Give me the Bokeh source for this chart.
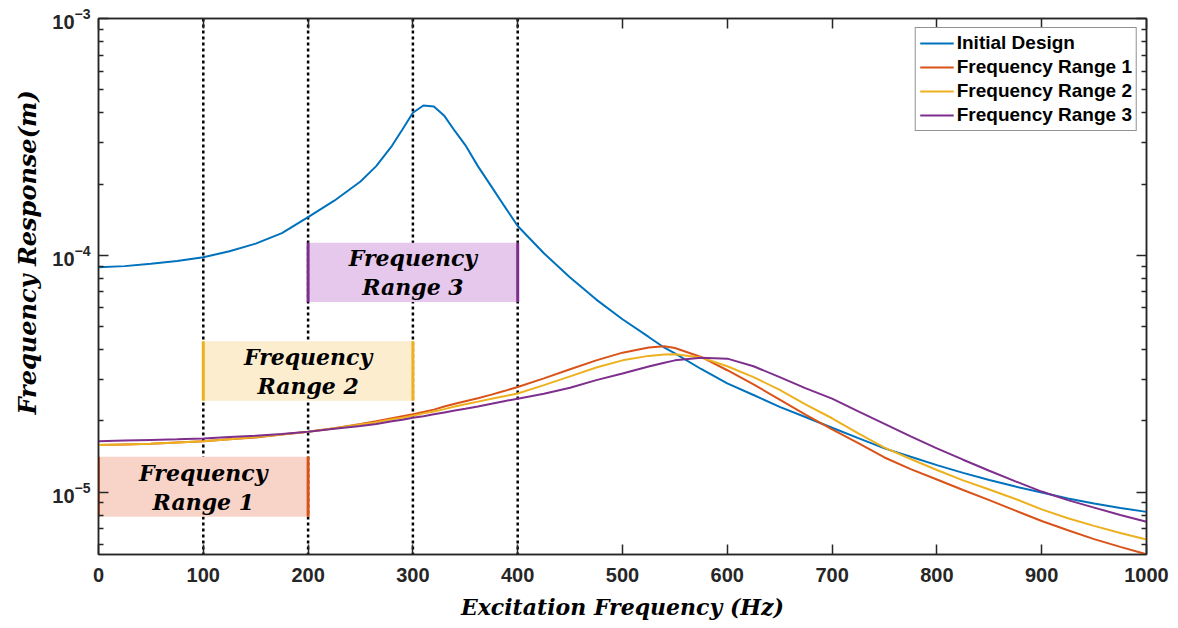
from bokeh.plotting import figure
from bokeh.models import (Range1d, LinearAxis, LogAxis, FixedTicker, LogTickFormatter,
                          Span, Legend, LegendItem, Title)
from bokeh.core.properties import value
from bokeh.embed import file_html
from bokeh.resources import INLINE

# Excitation frequency grid (Hz)
freq = [0, 25, 50, 75, 100, 125, 150, 175, 200, 225, 250, 265, 280, 290, 300, 310, 320,
        330, 340, 350, 362, 375, 387, 400, 425, 450, 475, 500, 525, 540, 550, 575, 600,
        625, 650, 675, 700, 725, 750, 775, 800, 825, 850, 875, 900, 925, 950, 975, 1000]

# Frequency response amplitude (m)
initial_design = [8.90e-5, 9.00e-5, 9.20e-5, 9.45e-5, 9.81e-5, 1.04e-4, 1.12e-4, 1.24e-4,
                  1.45e-4, 1.70e-4, 2.05e-4, 2.38e-4, 2.90e-4, 3.40e-4, 4.00e-4, 4.29e-4,
                  4.25e-4, 3.88e-4, 3.35e-4, 2.92e-4, 2.38e-4, 1.95e-4, 1.62e-4, 1.33e-4,
                  1.02e-4, 8.05e-5, 6.50e-5, 5.37e-5, 4.52e-5, 4.07e-5, 3.85e-5, 3.31e-5,
                  2.88e-5, 2.57e-5, 2.29e-5, 2.07e-5, 1.87e-5, 1.69e-5, 1.53e-5, 1.41e-5,
                  1.30e-5, 1.205e-5, 1.125e-5, 1.055e-5, 9.95e-6, 9.40e-6, 8.95e-6, 8.57e-6, 8.25e-6]
range1_design = [1.58e-5, 1.59e-5, 1.60e-5, 1.62e-5, 1.64e-5, 1.67e-5, 1.70e-5, 1.75e-5,
                 1.80e-5, 1.86e-5, 1.94e-5, 1.99e-5, 2.05e-5, 2.09e-5, 2.13e-5, 2.18e-5,
                 2.23e-5, 2.30e-5, 2.36e-5, 2.42e-5, 2.49e-5, 2.58e-5, 2.67e-5, 2.78e-5,
                 3.02e-5, 3.30e-5, 3.60e-5, 3.88e-5, 4.08e-5, 4.13e-5, 4.06e-5, 3.72e-5,
                 3.27e-5, 2.85e-5, 2.46e-5, 2.12e-5, 1.84e-5, 1.61e-5, 1.40e-5, 1.25e-5,
                 1.13e-5, 1.02e-5, 9.25e-6, 8.35e-6, 7.55e-6, 6.90e-6, 6.33e-6, 5.87e-6, 5.46e-6]
range2_design = [1.58e-5, 1.59e-5, 1.60e-5, 1.62e-5, 1.64e-5, 1.67e-5, 1.71e-5, 1.75e-5,
                 1.80e-5, 1.86e-5, 1.93e-5, 1.97e-5, 2.03e-5, 2.06e-5, 2.10e-5, 2.15e-5,
                 2.19e-5, 2.24e-5, 2.30e-5, 2.35e-5, 2.41e-5, 2.48e-5, 2.54e-5, 2.61e-5,
                 2.83e-5, 3.08e-5, 3.36e-5, 3.60e-5, 3.76e-5, 3.81e-5, 3.82e-5, 3.70e-5,
                 3.40e-5, 3.06e-5, 2.70e-5, 2.34e-5, 2.05e-5, 1.77e-5, 1.54e-5, 1.38e-5,
                 1.24e-5, 1.12e-5, 1.025e-5, 9.35e-6, 8.45e-6, 7.75e-6, 7.20e-6, 6.72e-6, 6.31e-6]
range3_design = [1.64e-5, 1.65e-5, 1.66e-5, 1.67e-5, 1.685e-5, 1.71e-5, 1.73e-5, 1.76e-5,
                 1.80e-5, 1.85e-5, 1.90e-5, 1.94e-5, 1.99e-5, 2.02e-5, 2.06e-5, 2.09e-5,
                 2.13e-5, 2.17e-5, 2.21e-5, 2.25e-5, 2.30e-5, 2.36e-5, 2.42e-5, 2.48e-5,
                 2.60e-5, 2.76e-5, 2.97e-5, 3.17e-5, 3.39e-5, 3.52e-5, 3.60e-5, 3.69e-5,
                 3.66e-5, 3.40e-5, 3.06e-5, 2.74e-5, 2.48e-5, 2.19e-5, 1.94e-5, 1.72e-5,
                 1.53e-5, 1.37e-5, 1.23e-5, 1.11e-5, 1.005e-5, 9.25e-6, 8.60e-6, 8.00e-6, 7.50e-6]

series_names = ["Initial Design", "Frequency Range 1", "Frequency Range 2", "Frequency Range 3"]
series_colors = ["#0072BD", "#D95319", "#EDB120", "#7E2F8E"]

# Optimisation bands
band_start = [0, 100, 200]
band_end = [200, 300, 400]
band_top = [1.41e-5, 4.34e-5, 1.13e-4]
band_bottom = [7.87e-6, 2.43e-5, 6.35e-5]
band_title = ["Frequency", "Frequency", "Frequency"]
band_name = ["Range 1", "Range 2", "Range 3"]
band_fill = ["#F8D4C8", "#FBEDCD", "#E6C8EC"]
band_edge = ["#D95319", "#EDB120", "#7E2F8E"]

window_edges = [100, 200, 300, 400]
x_ticks = [0, 100, 200, 300, 400, 500, 600, 700, 800, 900, 1000]
y_ticks = [1e-5, 1e-4, 1e-3]
y_minor = [m * d for d in (1e-6, 1e-5, 1e-4) for m in range(2, 10)]

axis_color = "#262626"
label_font = "DejaVu Serif"
tick_font = "Liberation Sans"

p = figure(frame_width=1048, frame_height=536, y_axis_type="log",
           x_range=Range1d(0, 1000), y_range=Range1d(5.45e-6, 1e-3),
           output_backend="svg", toolbar_location=None,
           min_border_left=98, min_border_right=32, min_border_top=18, min_border_bottom=74)
p.grid.visible = False
p.outline_line_color = axis_color
p.outline_line_width = 1.5
p.background_fill_color = "white"
p.border_fill_color = "white"

# dotted markers of the band limits
for xe in window_edges:
    p.add_layout(Span(location=xe, dimension="height", line_color="black",
                      line_width=2.5, line_dash="3 3", level="underlay"))

# shaded bands with coloured side edges
p.quad(left=band_start, right=band_end, top=band_top, bottom=band_bottom,
       fill_color=band_fill, line_color=None)
p.segment(x0=band_start, y0=band_bottom, x1=band_start, y1=band_top,
          line_color=band_edge, line_width=3)
p.segment(x0=band_end, y0=band_bottom, x1=band_end, y1=band_top,
          line_color=band_edge, line_width=3)

band_cx = [(a + b) / 2 for a, b in zip(band_start, band_end)]
band_cy = [(t * b) ** 0.5 for t, b in zip(band_top, band_bottom)]
p.text(x=band_cx, y=band_cy, text=band_title, text_font=value(label_font),
       text_font_style="bold italic", text_font_size="22px", text_align="center",
       text_baseline="middle", y_offset=-14, text_color="black")
p.text(x=band_cx, y=band_cy, text=band_name, text_font=value(label_font),
       text_font_style="bold italic", text_font_size="22px", text_align="center",
       text_baseline="middle", y_offset=15, text_color="black")

# response curves
items = []
for name, ys, col in zip(series_names,
                         [initial_design, range1_design, range2_design, range3_design],
                         series_colors):
    r = p.line(freq, ys, line_color=col, line_width=2)
    items.append(LegendItem(label=name, renderers=[r]))

legend = Legend(items=items, location="top_right", label_text_font=tick_font,
                label_text_font_style="bold", label_text_font_size="19px",
                label_text_color="black", border_line_color=axis_color,
                border_line_width=1.2, background_fill_color="white",
                background_fill_alpha=1, glyph_width=34, glyph_height=22,
                label_height=22, label_standoff=3, spacing=2, padding=4,
                margin=9)
p.add_layout(legend)

# axes
def style(ax, show_labels):
    ax.axis_line_color = axis_color
    ax.axis_line_width = 1.5
    ax.major_tick_line_color = axis_color
    ax.major_tick_line_width = 1.5
    ax.minor_tick_line_color = axis_color
    ax.minor_tick_line_width = 1.5
    ax.major_tick_in = 10
    ax.major_tick_out = 0
    ax.minor_tick_in = 5
    ax.minor_tick_out = 0
    ax.major_label_text_font = tick_font
    ax.major_label_text_font_style = "bold"
    ax.major_label_text_font_size = "20px" if show_labels else "1px"
    ax.major_label_text_color = "#262626" if show_labels else None
    ax.axis_label_text_font = label_font
    ax.axis_label_text_font_style = "bold italic"
    ax.axis_label_text_font_size = "22px"
    ax.axis_label_text_color = "black"

xb = p.xaxis[0]
xb.ticker = FixedTicker(ticks=x_ticks)
style(xb, True)
xb.minor_tick_line_color = None
xb.major_label_standoff = 13
xb.axis_label = "Excitation Frequency (Hz)"
xb.axis_label_standoff = 9

yl = p.yaxis[0]
yl.ticker = FixedTicker(ticks=y_ticks, minor_ticks=y_minor)
yl.formatter = LogTickFormatter()
style(yl, True)
yl.major_label_standoff = 8

# y title on the left side, raised a little above the frame centre
p.add_layout(Title(text="Frequency Response(m)", align="left", offset=140,
                   text_font=label_font, text_font_style="bold italic",
                   text_font_size="24px", text_color="black", standoff=16), "left")

xt = LinearAxis(ticker=FixedTicker(ticks=x_ticks))
style(xt, False)
xt.minor_tick_line_color = None
xt.major_label_standoff = 0
p.add_layout(xt, "above")

yr = LogAxis(ticker=FixedTicker(ticks=y_ticks, minor_ticks=y_minor))
style(yr, False)
yr.major_label_standoff = 0
p.add_layout(yr, "right")

open("out.html", "w").write(file_html(p, INLINE))
